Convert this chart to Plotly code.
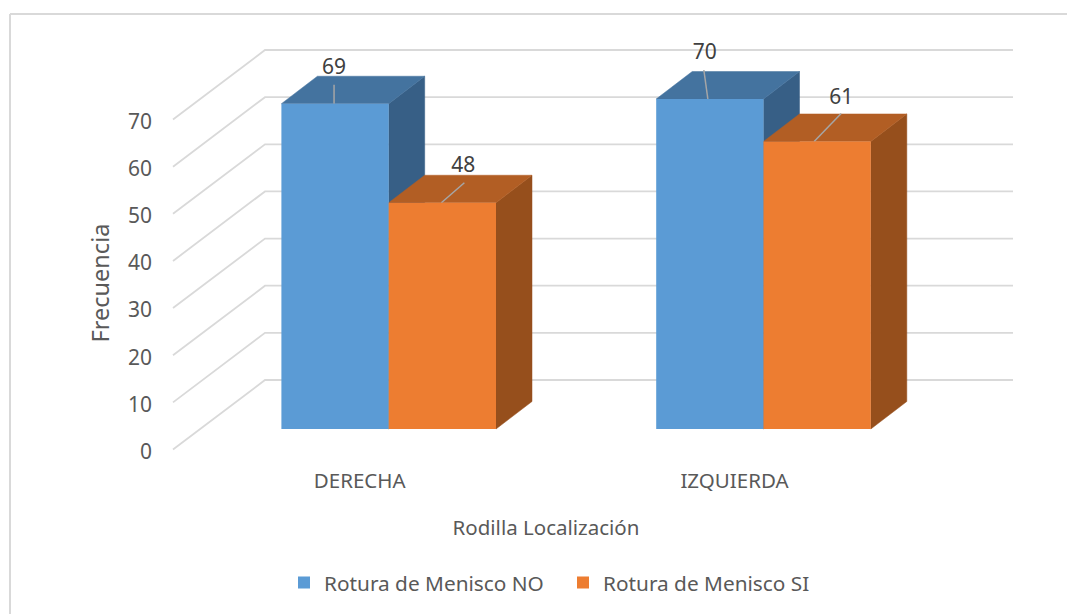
import plotly.graph_objects as go

categories = ["DERECHA", "IZQUIERDA"]
series_names = ["Rotura de Menisco NO", "Rotura de Menisco SI"]
values_no = [69, 70]
values_si = [48, 61]
y_ticks = [0, 10, 20, 30, 40, 50, 60, 70]

W, H = 1075, 614
PAGE = 8  # page margin of the browser body
# plot area in window pixels
PL, PR, PT, PB = 78, 1014, 8, 558
PX_PER_UNIT = 4.714
CAT_LEFT_PX = 388.7
CAT_STEP_PX = 374.8


def cx(px):
    return (px - CAT_LEFT_PX) / CAT_STEP_PX


def paper_x(px):
    return (px - PL) / (PR - PL)


def paper_y(py):
    return (PB - py) / (PB - PT)


bar_w = 107.3 / CAT_STEP_PX
depth_x = 36 / CAT_STEP_PX
depth_y = 27.5 / PX_PER_UNIT
wall_dx = (265 - 173) / CAT_STEP_PX
wall_dy = 69.5 / PX_PER_UNIT
wall_front = cx(173)
wall_right = cx(1013)

tick_zero_px = 451.5
grid_shift = 2.0 / PX_PER_UNIT
bar_zero_px = 429.0


def yrange(zero_px):
    return [(zero_px - PB) / PX_PER_UNIT, (zero_px - PT) / PX_PER_UNIT]


GRID = "#d9d9d9"
LABEL = "#404040"
TICK = "#595959"
FONT = "Noto Sans"
colors = ["#5B9BD5", "#ED7D31"]
tops = ["#44739F", "#B25E24"]
sides = ["#375F86", "#964F1C"]

fig = go.Figure()

# back wall and side wall gridlines
for t in y_ticks:
    fig.add_trace(go.Scatter(
        x=[wall_front, wall_front + wall_dx, wall_right],
        y=[t + grid_shift, t + grid_shift + wall_dy, t + grid_shift + wall_dy],
        mode="lines", line=dict(color=GRID, width=1.8),
        showlegend=False, hoverinfo="skip", yaxis="y"))

all_vals = [values_no, values_si]
lefts = [-bar_w, 0.0]

# depth faces
for s, vals in enumerate(all_vals):
    for c, v in enumerate(vals):
        x0 = c + lefts[s]
        x1 = x0 + bar_w
        fig.add_trace(go.Scatter(
            x=[x1, x1 + depth_x, x1 + depth_x, x1, x1],
            y=[0, depth_y, v + depth_y, v, 0],
            mode="lines", fill="toself", fillcolor=sides[s],
            line=dict(color=sides[s], width=0.5),
            showlegend=False, hoverinfo="skip", yaxis="y2"))
        fig.add_trace(go.Scatter(
            x=[x0, x1, x1 + depth_x, x0 + depth_x, x0],
            y=[v, v, v + depth_y, v + depth_y, v],
            mode="lines", fill="toself", fillcolor=tops[s],
            line=dict(color=tops[s], width=0.5),
            showlegend=False, hoverinfo="skip", yaxis="y2"))

# leader lines and value labels: per series, per category, offsets in pixels
leader_bottom_dx = [[-1, -2], [-1, -3]]
leader_top_dx = [[-1, -6], [22, 24]]
leader_top_dy = [[19, 29], [20, 28]]
label_dx = [[-1, -5], [21, 24]]
label_dy = [[34.5, 45.5], [35.5, 43]]
for s, vals in enumerate(all_vals):
    for c, v in enumerate(vals):
        xc = c + lefts[s] + bar_w / 2
        fig.add_trace(go.Scatter(
            x=[xc + leader_bottom_dx[s][c] / CAT_STEP_PX,
               xc + leader_top_dx[s][c] / CAT_STEP_PX],
            y=[v, v + leader_top_dy[s][c] / PX_PER_UNIT], mode="lines",
            line=dict(color="#a6a6a6", width=1.5),
            showlegend=False, hoverinfo="skip", yaxis="y2"))
        fig.add_trace(go.Scatter(
            x=[xc + label_dx[s][c] / CAT_STEP_PX],
            y=[v + label_dy[s][c] / PX_PER_UNIT],
            mode="text", text=[str(v)], textposition="middle center",
            textfont=dict(family=FONT, size=21, color=LABEL),
            showlegend=False, hoverinfo="skip", yaxis="y2"))

# front faces
for s, vals in enumerate(all_vals):
    fig.add_trace(go.Bar(
        x=[0, 1], y=vals, name=series_names[s], yaxis="y3",
        marker=dict(color=colors[s], line=dict(width=0)),
        hoverinfo="skip"))

tick_shift = -29 / CAT_STEP_PX
fig.update_layout(
    width=W, height=H, autosize=False,
    paper_bgcolor="white", plot_bgcolor="white",
    margin=dict(l=PL - PAGE, r=W + PAGE - PR, t=PT - PAGE, b=H + PAGE - PB, pad=0),
    barmode="group", bargap=1 - 2 * bar_w, bargroupgap=0,
    font=dict(family=FONT, size=21, color=TICK),
    xaxis=dict(
        range=[cx(PL), cx(PR)], showgrid=False, zeroline=False,
        showline=False, ticks="", anchor="free", position=paper_y(466),
        tickmode="array", tickvals=[c + tick_shift for c in range(2)],
        ticktext=categories, tickfont=dict(family=FONT, size=20.5, color=TICK),
        title=dict(text="Rodilla Localización", standoff=28,
                   font=dict(family=FONT, size=20.5, color=TICK))),
    yaxis=dict(
        range=yrange(tick_zero_px), showgrid=False, zeroline=False,
        showline=False, ticks="", tickmode="array", tickvals=y_ticks,
        anchor="free", position=paper_x(152),
        tickfont=dict(family=FONT, size=21, color=TICK),
        title=dict(text="Frecuencia", standoff=10,
                   font=dict(family=FONT, size=23.5, color=TICK))),
    yaxis2=dict(range=yrange(bar_zero_px), overlaying="y", visible=False),
    yaxis3=dict(range=yrange(bar_zero_px), overlaying="y", visible=False),
    legend=dict(
        orientation="h", x=paper_x(284), xanchor="left",
        y=paper_y(583), yanchor="middle", entrywidth=234,
        font=dict(family=FONT, size=20.8, color=TICK),
        bgcolor="rgba(0,0,0,0)"),
    shapes=[
        dict(type="line", xref="paper", yref="paper",
             x0=paper_x(10), x1=paper_x(1090), y0=paper_y(14), y1=paper_y(14),
             line=dict(color=GRID, width=2)),
        dict(type="line", xref="paper", yref="paper",
             x0=paper_x(10), x1=paper_x(10), y0=paper_y(14), y1=paper_y(630),
             line=dict(color=GRID, width=2)),
    ],
)
fig.write_html("out.html", default_width="1075px", default_height="614px")
